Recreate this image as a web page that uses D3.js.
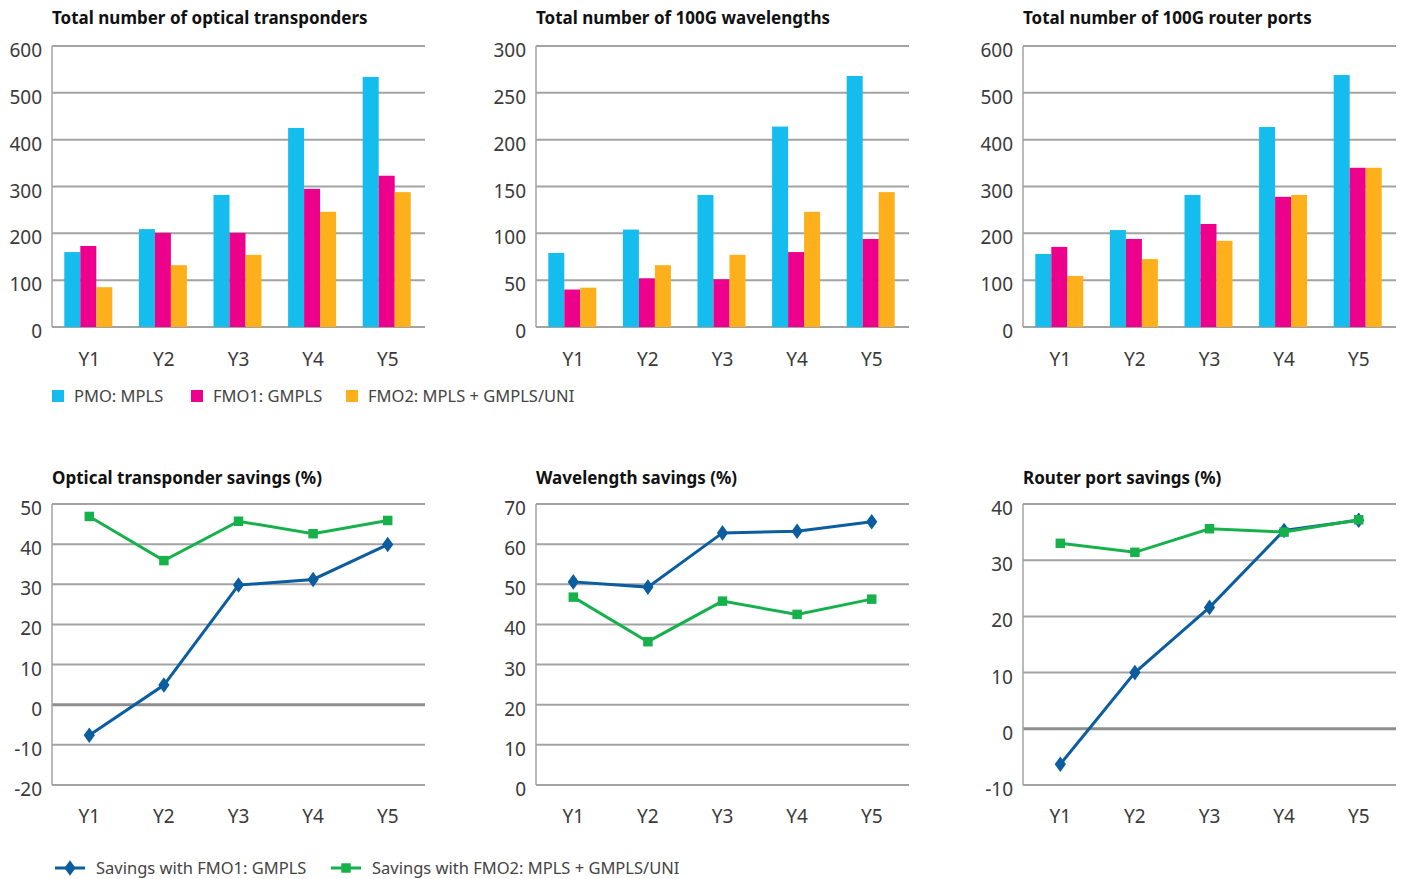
<!DOCTYPE html>
<html lang="en">
<head>
    <meta charset="UTF-8" />
    <title>Transponders, wavelengths and router ports</title>
    <script src="https://cdn.jsdelivr.net/npm/d3@7"></script>
    <style>
        body { margin: 0; background: #fff; }
        svg { display: block; font-family: "Noto Sans", "Open Sans", sans-serif; }
        .tick-label { fill: #3a3a3a; font-size: 19px; }
        .title { fill: #111; font-size: 17px; font-weight: 700; }
        .legend-text { fill: #444; font-size: 16.5px; }
    </style>
</head>
<body>
<svg id="chart" width="1403" height="879"></svg>
<script>
    // --- Data ---
    const years = ["Y1", "Y2", "Y3", "Y4", "Y5"];
    const barSeries = ["PMO: MPLS", "FMO1: GMPLS", "FMO2: MPLS + GMPLS/UNI"];
    const lineSeries = ["Savings with FMO1: GMPLS", "Savings with FMO2: MPLS + GMPLS/UNI"];

    const transponders = [
        [160, 209, 282, 425, 534],   // PMO
        [173, 201, 201, 295, 323],   // FMO1
        [85, 132, 154, 246, 288]     // FMO2
    ];
    const wavelengths = [
        [79, 104, 141, 214, 268],
        [40, 52, 51, 80, 94],
        [42, 66, 77, 123, 144]
    ];
    const routerPorts = [
        [156, 207, 282, 427, 538],
        [171, 188, 220, 278, 340],
        [109, 145, 184, 282, 340]
    ];

    const transponderSavings = [
        [-7.6, 4.9, 29.8, 31.2, 39.9],
        [46.9, 35.9, 45.7, 42.6, 45.9]
    ];
    const wavelengthSavings = [
        [50.6, 49.3, 62.8, 63.2, 65.6],
        [46.8, 35.7, 45.8, 42.5, 46.3]
    ];
    const routerSavings = [
        [-6.3, 10.0, 21.6, 35.3, 37.1],
        [33.0, 31.4, 35.6, 35.0, 37.2]
    ];

    const barColors = ["#15bdef", "#ec008c", "#fdb01b"];
    const lineColors = ["#0b5d9f", "#17b14c"];
    const gridColor = "#a3a3a3";

    const svg = d3.select("#chart");

    const cols = [[52, 425], [536, 909], [1023, 1396]];

    function frame(g, y, left, right, ticks) {
        const min = y.domain()[0];
        ticks.forEach(t => {
            const isZero = min < 0 && t === 0;
            g.append("line")
                .attr("x1", left).attr("x2", right)
                .attr("y1", y(t)).attr("y2", y(t))
                .attr("stroke", isZero ? "#8e8e8e" : gridColor)
                .attr("stroke-width", isZero ? 3 : 2);
            g.append("text")
                .attr("class", "tick-label")
                .attr("x", left - 10)
                .attr("y", y(t) + 11)
                .attr("text-anchor", "end")
                .text(t);
        });
        g.append("line")
            .attr("x1", left).attr("x2", left)
            .attr("y1", y.range()[1]).attr("y2", y.range()[0])
            .attr("stroke", gridColor).attr("stroke-width", 1.5);
    }

    function barPanel(col, title, data, max, step) {
        const [left, right] = cols[col];
        const top = 46, bottom = 327;
        const g = svg.append("g");
        const x = d3.scaleBand().domain(years).range([left, right]);
        const inner = d3.scaleBand().domain(d3.range(3)).range([0, 48]);
        const y = d3.scaleLinear().domain([0, max]).range([bottom, top]);

        g.append("text").attr("class", "title").attr("x", left).attr("y", 24).text(title);
        frame(g, y, left, right, d3.range(0, max + 1, step));

        data.forEach((vals, s) => {
            g.selectAll(null).data(vals).enter().append("rect")
                .attr("x", (d, i) => x(years[i]) + x.bandwidth() / 2 - 25 + inner(s))
                .attr("width", inner.bandwidth())
                .attr("y", d => y(d))
                .attr("height", d => y(0) - y(d))
                .attr("fill", barColors[s]);
        });

        g.selectAll(null).data(years).enter().append("text")
            .attr("class", "tick-label")
            .attr("x", d => x(d) + x.bandwidth() / 2)
            .attr("y", 366)
            .attr("text-anchor", "middle")
            .text(d => d);
    }

    function linePanel(col, title, data, min, max) {
        const [left, right] = cols[col];
        const top = 504, bottom = 785;
        const g = svg.append("g");
        const x = d3.scalePoint().domain(years).range([left, right]).padding(0.5);
        const y = d3.scaleLinear().domain([min, max]).range([bottom, top]);

        g.append("text").attr("class", "title").attr("x", left).attr("y", 484).text(title);
        frame(g, y, left, right, d3.range(min, max + 1, 10));

        const line = d3.line().x((d, i) => x(years[i])).y(d => y(d));
        // draw FMO1 (blue) first, green on top
        data.forEach((vals, s) => {
            g.append("path")
                .attr("d", line(vals))
                .attr("fill", "none")
                .attr("stroke", lineColors[s])
                .attr("stroke-width", 3);
            const sym = d3.symbol().type(s === 0 ? d3.symbolDiamond : d3.symbolSquare).size(s === 0 ? 70 : 90);
            g.selectAll(null).data(vals).enter().append("path")
                .attr("d", sym)
                .attr("transform", (d, i) => s === 0
                    ? `translate(${x(years[i])},${y(d)}) scale(1.25,1)`
                    : `translate(${x(years[i])},${y(d)})`)
                .attr("fill", lineColors[s]);
        });

        g.selectAll(null).data(years).enter().append("text")
            .attr("class", "tick-label")
            .attr("x", d => x(d))
            .attr("y", 823)
            .attr("text-anchor", "middle")
            .text(d => d);
    }

    barPanel(0, "Total number of optical transponders", transponders, 600, 100);
    barPanel(1, "Total number of 100G wavelengths", wavelengths, 300, 50);
    barPanel(2, "Total number of 100G router ports", routerPorts, 600, 100);

    linePanel(0, "Optical transponder savings (%)", transponderSavings, -20, 50);
    linePanel(1, "Wavelength savings (%)", wavelengthSavings, 0, 70);
    linePanel(2, "Router port savings (%)", routerSavings, -10, 40);

    // --- Legends ---
    const barLegendX = [52, 191, 346];
    const bl = svg.append("g");
    barSeries.forEach((name, i) => {
        bl.append("rect").attr("x", barLegendX[i]).attr("y", 390).attr("width", 12).attr("height", 12)
            .attr("fill", barColors[i]);
        bl.append("text").attr("class", "legend-text").attr("x", barLegendX[i] + 22).attr("y", 402).text(name);
    });

    const lineLegendX = [55, 331];
    const ll = svg.append("g");
    lineSeries.forEach((name, i) => {
        const x0 = lineLegendX[i];
        ll.append("line").attr("x1", x0).attr("x2", x0 + 30).attr("y1", 868).attr("y2", 868)
            .attr("stroke", lineColors[i]).attr("stroke-width", 3);
        ll.append("path")
            .attr("d", d3.symbol().type(i === 0 ? d3.symbolDiamond : d3.symbolSquare).size(i === 0 ? 70 : 90))
            .attr("transform", i === 0 ? `translate(${x0 + 15},868) scale(1.25,1)` : `translate(${x0 + 15},868)`)
            .attr("fill", lineColors[i]);
        ll.append("text").attr("class", "legend-text").attr("x", x0 + 41).attr("y", 874).text(name);
    });
</script>
</body>
</html>
